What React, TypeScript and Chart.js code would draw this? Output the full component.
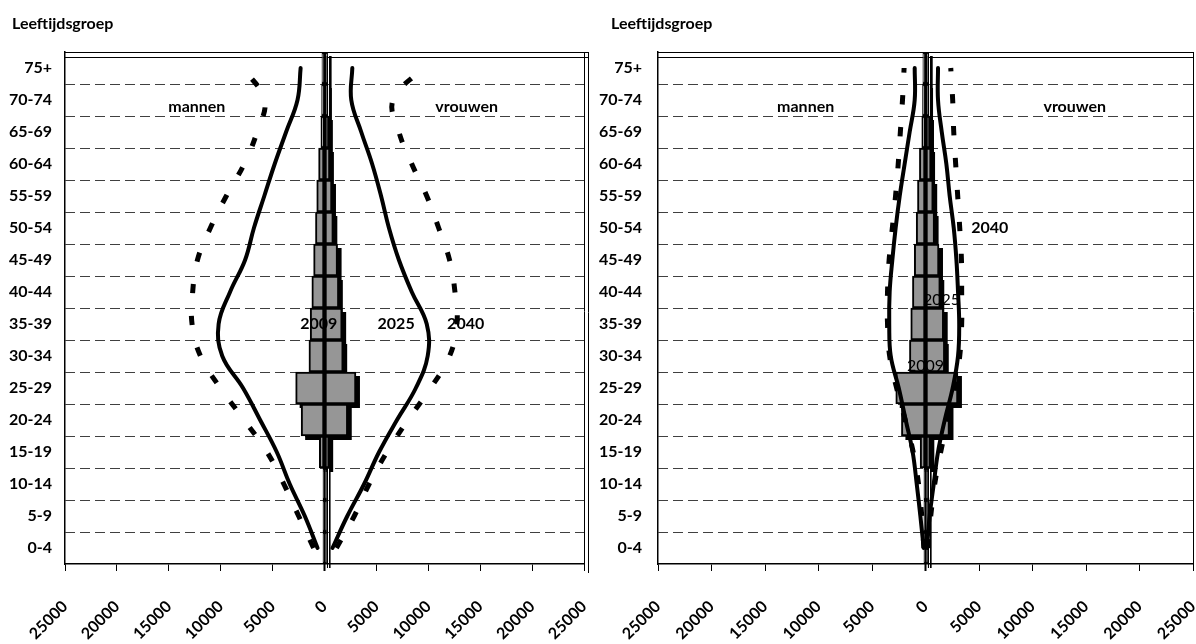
import React, { useEffect, useRef } from "react";
import { Chart, registerables } from "chart.js";

Chart.register(...registerables);

// ---------- data ----------
const ageGroups = ["0-4", "5-9", "10-14", "15-19", "20-24", "25-29", "30-34", "35-39", "40-44", "45-49", "50-54", "55-59", "60-64", "65-69", "70-74", "75+"];

// 2009 (bars), shared by both pyramids
const men2009 = [-150, -150, -150, -500, -2250, -2780, -1500, -1380, -1220, -1050, -870, -750, -570, -350, -280, -250];
const women2009 = [200, 200, 200, 450, 2240, 3030, 1800, 1700, 1380, 1260, 850, 720, 520, 420, 330, 300];

// left pyramid
const leftMen2025 = [-670, -1900, -3350, -4600, -6200, -7850, -9850, -10200, -9100, -7650, -6800, -5800, -4800, -3700, -2600, -2300];
const leftWomen2025 = [770, 2200, 3820, 5260, 6980, 8800, 9940, 9850, 8410, 7170, 6210, 5450, 4590, 3540, 2580, 2680];
const leftMen2040 = [-1050, -2490, -3920, -5540, -7740, -10040, -11950, -12760, -12700, -12240, -11000, -9460, -7740, -6500, -5780, -7840];
const leftWomen2040 = [1150, 2870, 4300, 6020, 8030, 10230, 12050, 12760, 12570, 12050, 11000, 9850, 8410, 7170, 6600, 9460];

// right pyramid
const rightMen2025 = [-170, -480, -820, -1200, -1850, -2500, -3250, -3390, -3350, -3100, -2790, -2410, -1950, -1480, -1010, -1010];
const rightWomen2025 = [140, 390, 770, 1170, 1800, 2540, 3040, 3150, 3040, 2890, 2640, 2260, 1950, 1520, 1170, 1170];
const rightMen2040 = [-150, -350, -650, -1150, -1900, -2700, -3350, -3550, -3550, -3400, -3100, -2800, -2550, -2350, -2150, -2000];
const rightWomen2040 = [210, 490, 860, 1420, 2080, 2730, 3200, 3380, 3380, 3360, 3200, 3010, 2820, 2640, 2540, 2360];

// text notes: [text, x value, age-group index, bold]
const leftNotes: [string, number, number, boolean][] = [
  ["mannen", -12300, 13.78, true],
  ["vrouwen", 13700, 13.78, true],
  ["2009", -550, 7, true],
  ["2025", 6900, 7, true],
  ["2040", 13600, 7, true],
];
const rightNotes: [string, number, number, boolean][] = [
  ["mannen", -11200, 13.78, true],
  ["vrouwen", 13950, 13.78, true],
  ["2040", 6000, 10, true],
  ["2025", 1500, 7.75, false],
  ["2009", 0, 5.69, false],
];

const axisTitle = "Leeftijdsgroep";
const xMin = -25000;
const xMax = 25000;
const xStep = 5000;

const FONT = "Lato";
const FS = 16;

function makeConfig(
  men25: number[], women25: number[], men40: number[], women40: number[],
  notes: [string, number, number, boolean][], yWidth: number, padRight: number, yPad: number, doubleRight: boolean
): any {
  const lineBase = { type: "line", borderColor: "#000", pointRadius: 0, pointHoverRadius: 0, fill: false, tension: 0.4, order: 0 };
  const solid = { ...lineBase, borderWidth: 4, borderCapStyle: "round", borderJoinStyle: "round" };
  const dashed = { ...lineBase, borderWidth: 5, borderDash: [9, 23], borderCapStyle: "butt" };
  const barBase = {
    type: "bar", backgroundColor: "#969696", borderColor: "#000", borderWidth: 2, borderSkipped: false,
    grouped: false, barPercentage: 1, categoryPercentage: 1,
  };

  const decor = {
    id: "decor",
    beforeDatasetsDraw(chart: any) {
      const { ctx, chartArea: a, scales } = chart;
      const y = scales.y;
      ctx.save();
      ctx.strokeStyle = "#404040";
      ctx.lineWidth = 1;
      ctx.setLineDash([10, 5]);
      for (let k = 1; k < ageGroups.length; k++) {
        const py = Math.round((y.getPixelForValue(k - 1) + y.getPixelForValue(k)) / 2) + 0.5;
        ctx.beginPath();
        ctx.moveTo(a.left, py);
        ctx.lineTo(a.right, py);
        ctx.stroke();
      }
      ctx.setLineDash([]);
      ctx.strokeStyle = "#000";
      ctx.beginPath();
      ctx.moveTo(a.left, Math.round(a.top) + 0.5);
      ctx.lineTo(a.right + (doubleRight ? 4 : 0), Math.round(a.top) + 0.5);
      ctx.moveTo(a.left, Math.round(a.top) + 5.5);
      ctx.lineTo(a.right + (doubleRight ? 4 : 0), Math.round(a.top) + 5.5);
      ctx.moveTo(Math.round(a.right) + 0.5, a.top);
      ctx.lineTo(Math.round(a.right) + 0.5, a.bottom + 7);
      if (doubleRight) {
        ctx.moveTo(Math.round(a.right) + 4.5, a.top);
        ctx.lineTo(Math.round(a.right) + 4.5, a.bottom + 9);
      }
      ctx.stroke();
      // drop shadows of the 2009 bars (from the bar elements' own geometry)
      ctx.fillStyle = "#000";
      for (const meta of chart.getSortedVisibleDatasetMetas()) {
        if (meta.type !== "bar") continue;
        for (const el of meta.data) {
          const p = el.getProps(["x", "y", "base", "height"], true);
          const l = Math.min(p.x, p.base);
          const r = Math.max(p.x, p.base);
          ctx.fillRect(l + 4, p.y - p.height / 2 + 4, r - l, p.height);
        }
      }
      ctx.restore();
    },
    afterDatasetsDraw(chart: any) {
      const { ctx, chartArea: a, scales } = chart;
      const x0 = scales.x.getPixelForValue(0);
      ctx.save();
      ctx.strokeStyle = "#000";
      ctx.lineWidth = 2;
      ctx.beginPath();
      ctx.moveTo(x0, a.top);
      ctx.lineTo(x0, a.bottom + 7);
      ctx.stroke();
      ctx.fillStyle = "#000";
      ctx.textAlign = "center";
      ctx.textBaseline = "middle";
      for (const [t, vx, vy, b] of notes) {
        ctx.font = `${b ? "bold" : "normal"} ${FS}px ${FONT}`;
        ctx.fillText(t, scales.x.getPixelForValue(vx), scales.y.getPixelForValue(vy));
      }
      ctx.restore();
    },
  };

  return {
    type: "bar",
    data: {
      labels: ageGroups,
      datasets: [
        { ...solid, label: "2025 mannen", data: men25 },
        { ...solid, label: "2025 vrouwen", data: women25 },
        { ...dashed, label: "2040 mannen", data: men40 },
        { ...dashed, label: "2040 vrouwen", data: women40 },
        { ...barBase, label: "2009 mannen", data: men2009, order: 2 },
        { ...barBase, label: "2009 vrouwen", data: women2009, order: 1 },
      ],
    },
    options: {
      indexAxis: "y",
      animation: false,
      responsive: false,
      devicePixelRatio: 1,
      events: [],
      layout: { padding: { left: 0, right: padRight, top: 52, bottom: 0 } },
      plugins: { legend: { display: false }, tooltip: { enabled: false }, title: { display: false } },
      scales: {
        x: {
          type: "linear",
          position: "bottom",
          min: xMin,
          max: xMax,
          grid: { drawOnChartArea: false, drawTicks: true, tickLength: 7, tickColor: "#000", tickWidth: 1 },
          border: { display: true, color: "#000", width: 1.5 },
          ticks: {
            stepSize: xStep,
            autoSkip: false,
            minRotation: 45,
            maxRotation: 45,
            padding: 26,
            color: "#000",
            font: { family: FONT, weight: "bold", size: FS },
            callback: (v: any) => String(Math.abs(Number(v))),
          },
          afterFit: (s: any) => { s.height = 80; s.paddingLeft = 0; s.paddingRight = 0; },
        },
        y: {
          type: "category",
          reverse: true,
          offset: true,
          grid: { display: false, drawTicks: false },
          border: { display: true, color: "#000", width: 1.5 },
          ticks: { autoSkip: false, padding: yPad, color: "#000", font: { family: FONT, weight: "bold", size: FS } },
          afterFit: (s: any) => { s.width = yWidth; s.paddingTop = 0; s.paddingBottom = 0; },
        },
      },
    },
    plugins: [decor],
  };
}

export default function App() {
  const leftRef = useRef<HTMLCanvasElement | null>(null);
  const rightRef = useRef<HTMLCanvasElement | null>(null);

  useEffect(() => {
    const c1 = new Chart(leftRef.current as HTMLCanvasElement,
      makeConfig(leftMen2025, leftWomen2025, leftMen2040, leftWomen2040, leftNotes, 65, 14, 13, true));
    const c2 = new Chart(rightRef.current as HTMLCanvasElement,
      makeConfig(rightMen2025, rightWomen2025, rightMen2040, rightWomen2040, rightNotes, 60, 3, 16, false));
    return () => { c1.destroy(); c2.destroy(); };
  }, []);

  const titleStyle: React.CSSProperties = {
    position: "absolute", top: 15, fontFamily: FONT, fontWeight: 700, fontSize: FS, lineHeight: "16px", color: "#000", whiteSpace: "nowrap",
  };

  return (
    <div style={{ position: "absolute", left: 0, top: 0, width: 1196, height: 644, background: "#fff", overflow: "hidden" }}>
      <canvas ref={leftRef} width={598} height={644} style={{ position: "absolute", left: 0, top: 0, width: 598, height: 644 }} />
      <canvas ref={rightRef} width={598} height={644} style={{ position: "absolute", left: 598, top: 0, width: 598, height: 644 }} />
      <div style={{ ...titleStyle, left: 12 }}>{axisTitle}</div>
      <div style={{ ...titleStyle, left: 611 }}>{axisTitle}</div>
    </div>
  );
}
